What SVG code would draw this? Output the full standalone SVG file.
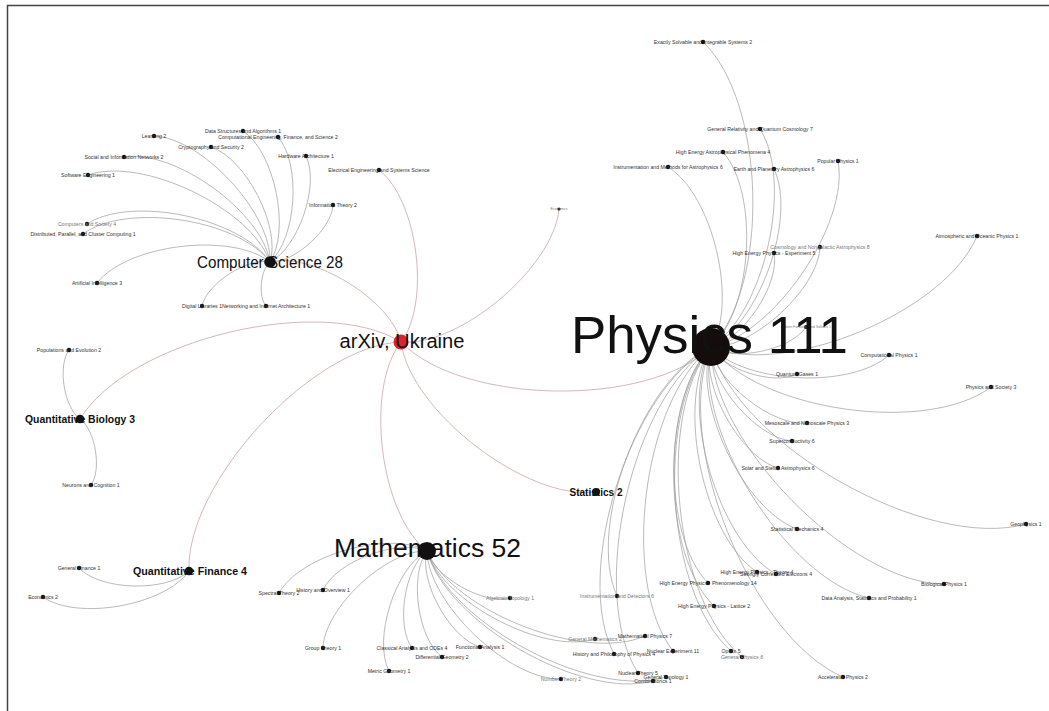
<svg xmlns="http://www.w3.org/2000/svg" width="1049" height="711" viewBox="0 0 1049 711">
<style>
.bg{fill:#fff}
.frame{fill:none;stroke:#444;stroke-width:1.5}
.e{fill:none;stroke:#9c9c9c;stroke-width:0.7}
.ea{fill:none;stroke:#caa4a6;stroke-width:0.8}
.d{fill:#111}
.l{font-family:"Liberation Sans",Arial,sans-serif;font-size:5.2px;fill:#333;text-anchor:middle}
.lf{fill:#777}
.h{font-family:"Liberation Sans",Arial,sans-serif;fill:#111;text-anchor:middle}
.hb{font-family:"Liberation Sans",Arial,sans-serif;fill:#111;text-anchor:middle;font-weight:bold}
</style>
<rect class="bg" width="1049" height="711"/>
<path class="frame" d="M7.5 711 V5.5 H1049"/>
<g id="connectors">
<path class="e" d="M270 262 C290.8 230.4 274.6 151.8 243 131"/>
<path class="e" d="M270 262 C296.6 238.6 301.4 163.6 278 137"/>
<path class="e" d="M270 262 C272 213.6 202.4 138 154 136"/>
<path class="e" d="M270 262 C281.2 227.2 245.8 158.2 211 147"/>
<path class="e" d="M270 262 C298.4 248 320 184.4 306 156"/>
<path class="e" d="M270 262 C261.8 211.8 174.2 148.8 124 157"/>
<path class="e" d="M270 262 C251 208.2 141.8 156 88 175"/>
<path class="e" d="M270 262 C294 263.2 331.8 229 333 205"/>
<path class="e" d="M270 262 C241 217.8 131.2 195 87 224"/>
<path class="e" d="M270 262 C238.2 219 126 202.2 83 234"/>
<path class="e" d="M270 262 C231.2 231.6 127.4 244.2 97 283"/>
<path class="e" d="M270 262 C247.6 257.2 206.8 283.6 202 306"/>
<path class="e" d="M270 262 C260.4 270 258 296.4 266 306"/>
<path class="ea" d="M401 342 C462 405 648 408 711 347"/>
<path class="ea" d="M401 342 C410 411 527 501 596 492"/>
<path class="ea" d="M401 342 C364.4 389 380 514.4 427 551"/>
<path class="ea" d="M401 342 C312.8 345.4 185.6 482.8 189 571"/>
<path class="ea" d="M401 342 C321.4 293.2 128.8 339.4 80 419"/>
<path class="ea" d="M401 342 C390.8 299.8 312.2 251.8 270 262"/>
<path class="ea" d="M401 342 C431 303.2 417.8 200 379 170"/>
<path class="ea" d="M401 342 C459.2 347 554 267.2 559 209"/>
<path class="e" d="M80 419 C64 407.4 57.4 366 69 350"/>
<path class="e" d="M80 419 C95.4 430 102 469.6 91 485"/>
<path class="e" d="M189 571 C166.4 592.4 100.4 590.6 79 568"/>
<path class="e" d="M189 571 C165 605.4 77.4 621 43 597"/>
<path class="e" d="M427 551 C389 529.8 300.2 555 279 593"/>
<path class="e" d="M427 551 C398.4 538 336 561.4 323 590"/>
<path class="e" d="M427 551 C386.8 549.6 324.4 607.8 323 648"/>
<path class="e" d="M427 551 C395.4 567.4 372.6 639.4 389 671"/>
<path class="e" d="M427 551 C404.6 567.4 395.6 625.6 412 648"/>
<path class="e" d="M427 551 C408.8 575.2 417.8 638.8 442 657"/>
<path class="e" d="M427 551 C418.4 580.8 450.2 638.4 480 647"/>
<path class="e" d="M427 551 C434.2 577 484 605.2 510 598"/>
<path class="e" d="M427 551 C428.2 603.4 508.6 680.2 561 679"/>
<path class="e" d="M427 551 C443 602.2 543.8 655 595 639"/>
<path class="e" d="M427 551 C453.6 611.6 584.4 662.6 645 636"/>
<path class="e" d="M427 551 C446.2 622.2 581.8 700.2 653 681"/>
<path class="e" d="M427 551 C449.6 624 593 699.6 666 677"/>
<path class="e" d="M711 347 C770.4 284.4 765.6 101.4 703 42"/>
<path class="e" d="M711 347 C764.4 313.2 793.8 182.4 760 129"/>
<path class="e" d="M711 347 C752.4 310.4 759.6 193.4 723 152"/>
<path class="e" d="M711 347 C773.6 335.2 849.8 223.6 838 161"/>
<path class="e" d="M711 347 C738.4 302.4 712.6 194.4 668 167"/>
<path class="e" d="M711 347 C759.2 324 797 217.2 774 169"/>
<path class="e" d="M711 347 C752.8 348.8 818.2 288.8 820 247"/>
<path class="e" d="M711 347 C742.4 340.8 780.2 284.4 774 253"/>
<path class="e" d="M711 347 C786.4 378 946 311.4 977 236"/>
<path class="e" d="M711 347 C734 362 791 350 806 327"/>
<path class="e" d="M711 347 C745 384.2 851.8 389 889 355"/>
<path class="e" d="M711 347 C722.8 369.6 774.4 385.8 797 374"/>
<path class="e" d="M711 347 C759 411 927 435 991 387"/>
<path class="e" d="M711 347 C715 381.4 772.6 427 807 423"/>
<path class="e" d="M711 347 C708.4 382 757 438.4 792 441"/>
<path class="e" d="M711 347 C700.2 384.6 740.4 457.2 778 468"/>
<path class="e" d="M711 347 C738.6 445.4 927.6 551.6 1026 524"/>
<path class="e" d="M711 347 C691.8 400.6 743.4 509.8 797 529"/>
<path class="e" d="M711 347 C675.2 401.2 702.8 536.2 757 572"/>
<path class="e" d="M711 347 C678.6 405.4 717.6 541.6 776 574"/>
<path class="e" d="M711 347 C663.2 393.6 661.4 535.2 708 583"/>
<path class="e" d="M711 347 C710.2 441 850 583.2 944 584"/>
<path class="e" d="M711 347 C692.4 428.8 787.2 579.4 869 598"/>
<path class="e" d="M711 347 C642.4 378 586 527.4 617 596"/>
<path class="e" d="M711 347 C659.8 399.4 661.6 554.8 714 606"/>
<path class="e" d="M711 347 C630.2 389 572 573.2 614 654"/>
<path class="e" d="M711 347 C642.6 400.2 619.8 582.6 673 651"/>
<path class="e" d="M711 347 C654.2 411.8 666.2 594.2 731 651"/>
<path class="e" d="M711 347 C655.2 415.2 673.8 601.2 742 657"/>
<path class="e" d="M711 347 C631.2 397.6 587.4 593.2 638 673"/>
<path class="e" d="M711 347 C671.4 439.4 750.6 637.4 843 677"/>
</g>
<g id="cs-ds"><circle class="d" cx="243" cy="131" r="2.2"/><text class="l" x="243" y="132.8">Data Structures and Algorithms 1</text></g>
<g id="cs-ce"><circle class="d" cx="278" cy="137" r="2.2"/><text class="l" x="278" y="138.8">Computational Engineering, Finance, and Science 2</text></g>
<g id="cs-lg"><circle class="d" cx="154" cy="136" r="2.2"/><text class="l" x="154" y="137.8">Learning 2</text></g>
<g id="cs-cr"><circle class="d" cx="211" cy="147" r="2.2"/><text class="l" x="211" y="148.8">Cryptography and Security 2</text></g>
<g id="cs-ar"><circle class="d" cx="306" cy="156" r="2.2"/><text class="l" x="306" y="157.8">Hardware Architecture 1</text></g>
<g id="cs-si"><circle class="d" cx="124" cy="157" r="2.2"/><text class="l" x="124" y="158.8">Social and Information Networks 2</text></g>
<g id="cs-se"><circle class="d" cx="88" cy="175" r="2.2"/><text class="l" x="88" y="176.8">Software Engineering 1</text></g>
<g id="cs-it"><circle class="d" cx="333" cy="205" r="2.2"/><text class="l" x="333" y="206.8">Information Theory 2</text></g>
<g id="cs-cy"><circle class="d" cx="87" cy="224" r="2.2"/><text class="l lf" x="87" y="225.8">Computers and Society 4</text></g>
<g id="cs-dc"><circle class="d" cx="83" cy="234" r="2.2"/><text class="l" x="83" y="235.8">Distributed, Parallel, and Cluster Computing 1</text></g>
<g id="cs-ai"><circle class="d" cx="97" cy="283" r="2.2"/><text class="l" x="97" y="284.8">Artificial Intelligence 3</text></g>
<g id="cs-dl"><circle class="d" cx="202" cy="306" r="2.2"/><text class="l" x="202" y="307.8">Digital Libraries 1</text></g>
<g id="cs-ni"><circle class="d" cx="266" cy="306" r="2.2"/><text class="l" x="266" y="307.8">Networking and Internet Architecture 1</text></g>
<g id="eess"><circle class="d" cx="379" cy="170" r="2.2"/><text class="l" x="379" y="171.8">Electrical Engineering and Systems Science</text></g>
<g id="econ"><circle class="d" cx="559" cy="209" r="1.6"/><text class="l lf" x="559" y="210.2" style="font-size:3.5px">Economics</text></g>
<g id="qb-pe"><circle class="d" cx="69" cy="350" r="2.2"/><text class="l" x="69" y="351.8">Populations and Evolution 2</text></g>
<g id="qb-nc"><circle class="d" cx="91" cy="485" r="2.2"/><text class="l" x="91" y="486.8">Neurons and Cognition 1</text></g>
<g id="qf-gn"><circle class="d" cx="79" cy="568" r="2.2"/><text class="l" x="79" y="569.8">General Finance 1</text></g>
<g id="qf-ec"><circle class="d" cx="43" cy="597" r="2.2"/><text class="l" x="43" y="598.8">Economics 2</text></g>
<g id="m-sp"><circle class="d" cx="279" cy="593" r="2.2"/><text class="l" x="279" y="594.8">Spectral Theory 2</text></g>
<g id="m-ho"><circle class="d" cx="323" cy="590" r="2.2"/><text class="l" x="323" y="591.8">History and Overview 1</text></g>
<g id="m-at"><circle class="d" cx="510" cy="598" r="2.2"/><text class="l lf" x="510" y="599.8">Algebraic Topology 1</text></g>
<g id="m-gr"><circle class="d" cx="323" cy="648" r="2.2"/><text class="l" x="323" y="649.8">Group Theory 1</text></g>
<g id="m-ca"><circle class="d" cx="412" cy="648" r="2.2"/><text class="l" x="412" y="649.8">Classical Analysis and ODEs 4</text></g>
<g id="m-fa"><circle class="d" cx="480" cy="647" r="2.2"/><text class="l" x="480" y="648.8">Functional Analysis 1</text></g>
<g id="m-dg"><circle class="d" cx="442" cy="657" r="2.2"/><text class="l" x="442" y="658.8">Differential Geometry 2</text></g>
<g id="m-mg"><circle class="d" cx="389" cy="671" r="2.2"/><text class="l" x="389" y="672.8">Metric Geometry 1</text></g>
<g id="m-nt"><circle class="d" cx="561" cy="679" r="2.2"/><text class="l lf" x="561" y="680.8">Number Theory 2</text></g>
<g id="m-gm"><circle class="d" cx="595" cy="639" r="2.2"/><text class="l lf" x="595" y="640.8">General Mathematics 2</text></g>
<g id="m-mp"><circle class="d" cx="645" cy="636" r="2.2"/><text class="l" x="645" y="637.8">Mathematical Physics 7</text></g>
<g id="m-co"><circle class="d" cx="653" cy="681" r="2.2"/><text class="l" x="653" y="682.8">Combinatorics 1</text></g>
<g id="m-gn"><circle class="d" cx="666" cy="677" r="2.2"/><text class="l" x="666" y="678.8">General Topology 1</text></g>
<g id="p-si"><circle class="d" cx="703" cy="42" r="2.2"/><text class="l" x="703" y="43.8">Exactly Solvable and Integrable Systems 2</text></g>
<g id="p-grqc"><circle class="d" cx="760" cy="129" r="2.2"/><text class="l" x="760" y="130.8">General Relativity and Quantum Cosmology 7</text></g>
<g id="p-he"><circle class="d" cx="723" cy="152" r="2.2"/><text class="l" x="723" y="153.8">High Energy Astrophysical Phenomena 4</text></g>
<g id="p-pop"><circle class="d" cx="838" cy="161" r="2.2"/><text class="l" x="838" y="162.8">Popular Physics 1</text></g>
<g id="p-im"><circle class="d" cx="668" cy="167" r="2.2"/><text class="l" x="668" y="168.8">Instrumentation and Methods for Astrophysics 6</text></g>
<g id="p-ep"><circle class="d" cx="774" cy="169" r="2.2"/><text class="l" x="774" y="170.8">Earth and Planetary Astrophysics 6</text></g>
<g id="p-co"><circle class="d" cx="820" cy="247" r="2.2"/><text class="l lf" x="820" y="248.8">Cosmology and Nongalactic Astrophysics 8</text></g>
<g id="p-hepex"><circle class="d" cx="774" cy="253" r="2.2"/><text class="l" x="774" y="254.8">High Energy Physics - Experiment 5</text></g>
<g id="p-ao"><circle class="d" cx="977" cy="236" r="2.2"/><text class="l" x="977" y="237.8">Atmospheric and Oceanic Physics 1</text></g>
<g id="p-ps"><circle class="d" cx="806" cy="327" r="2"/><text class="l lf" x="806" y="328.3" style="font-size:3.4px">Pattern Formation and Solitons 1</text></g>
<g id="p-comp"><circle class="d" cx="889" cy="355" r="2.2"/><text class="l" x="889" y="356.8">Computational Physics 1</text></g>
<g id="p-qg"><circle class="d" cx="797" cy="374" r="2.2"/><text class="l" x="797" y="375.8">Quantum Gases 1</text></g>
<g id="p-soc"><circle class="d" cx="991" cy="387" r="2.2"/><text class="l" x="991" y="388.8">Physics and Society 3</text></g>
<g id="p-mes"><circle class="d" cx="807" cy="423" r="2.2"/><text class="l" x="807" y="424.8">Mesoscale and Nanoscale Physics 3</text></g>
<g id="p-sc"><circle class="d" cx="792" cy="441" r="2.2"/><text class="l" x="792" y="442.8">Superconductivity 6</text></g>
<g id="p-sr"><circle class="d" cx="778" cy="468" r="2.2"/><text class="l" x="778" y="469.8">Solar and Stellar Astrophysics 6</text></g>
<g id="p-geo"><circle class="d" cx="1026" cy="524" r="2.2"/><text class="l" x="1026" y="525.8">Geophysics 1</text></g>
<g id="p-sm"><circle class="d" cx="797" cy="529" r="2.2"/><text class="l" x="797" y="530.8">Statistical Mechanics 4</text></g>
<g id="p-hepth"><circle class="d" cx="757" cy="572" r="2.2"/><text class="l" x="757" y="573.8">High Energy Physics - Theory 4</text></g>
<g id="p-sce"><circle class="d" cx="776" cy="574" r="2.2"/><text class="l" x="776" y="575.8">Strongly Correlated Electrons 4</text></g>
<g id="p-hepph"><circle class="d" cx="708" cy="583" r="2.2"/><text class="l" x="708" y="584.8">High Energy Physics - Phenomenology 14</text></g>
<g id="p-bio"><circle class="d" cx="944" cy="584" r="2.2"/><text class="l" x="944" y="585.8">Biological Physics 1</text></g>
<g id="p-da"><circle class="d" cx="869" cy="598" r="2.2"/><text class="l" x="869" y="599.8">Data Analysis, Statistics and Probability 1</text></g>
<g id="p-id"><circle class="d" cx="617" cy="596" r="2.2"/><text class="l lf" x="617" y="597.8">Instrumentation and Detectors 6</text></g>
<g id="p-lat"><circle class="d" cx="714" cy="606" r="2.2"/><text class="l" x="714" y="607.8">High Energy Physics - Lattice 2</text></g>
<g id="p-hist"><circle class="d" cx="614" cy="654" r="2.2"/><text class="l" x="614" y="655.8">History and Philosophy of Physics 4</text></g>
<g id="p-nex"><circle class="d" cx="673" cy="651" r="2.2"/><text class="l" x="673" y="652.8">Nuclear Experiment 11</text></g>
<g id="p-opt"><circle class="d" cx="731" cy="651" r="2.2"/><text class="l" x="731" y="652.8">Optics 5</text></g>
<g id="p-gen"><circle class="d" cx="742" cy="657" r="2.2"/><text class="l lf" x="742" y="658.8" style="font-style:italic">General Physics 6</text></g>
<g id="p-nth"><circle class="d" cx="638" cy="673" r="2.2"/><text class="l" x="638" y="674.8">Nuclear Theory 5</text></g>
<g id="p-acc"><circle class="d" cx="843" cy="677" r="2.2"/><text class="l" x="843" y="678.8">Accelerator Physics 2</text></g>
<g id="qbio"><circle class="d" cx="80" cy="419" r="4.3"/><text class="hb" x="80" y="422.5" font-size="10.5" textLength="110" lengthAdjust="spacingAndGlyphs">Quantitative Biology 3</text></g>
<g id="qfin"><circle class="d" cx="189" cy="571" r="4.2"/><text class="hb" x="190" y="574.5" font-size="10.5" textLength="114" lengthAdjust="spacingAndGlyphs">Quantitative Finance 4</text></g>
<g id="stat"><circle class="d" cx="596" cy="492" r="4"/><text class="hb" x="596" y="495.5" font-size="10" textLength="53" lengthAdjust="spacingAndGlyphs">Statistics 2</text></g>
<g id="cs"><circle class="d" cx="270" cy="262" r="5.8"/><text class="h" x="270" y="268" font-size="16" textLength="146" lengthAdjust="spacingAndGlyphs">Computer Science 28</text></g>
<g id="math"><circle class="d" cx="427" cy="551" r="9"/><text class="h" x="427.5" y="557" font-size="26" textLength="187" lengthAdjust="spacingAndGlyphs">Mathematics 52</text></g>
<g id="physics"><circle cx="711" cy="347" r="19" fill="#150c0c"/><text class="h" x="709.5" y="353" font-size="51" textLength="277" lengthAdjust="spacingAndGlyphs">Physics 111</text></g>
<g id="arxiv"><circle cx="401" cy="342" r="7.5" fill="#d9232e"/><text class="h" x="402" y="348" font-size="20" textLength="125" lengthAdjust="spacingAndGlyphs">arXiv, Ukraine</text></g>
</svg>
